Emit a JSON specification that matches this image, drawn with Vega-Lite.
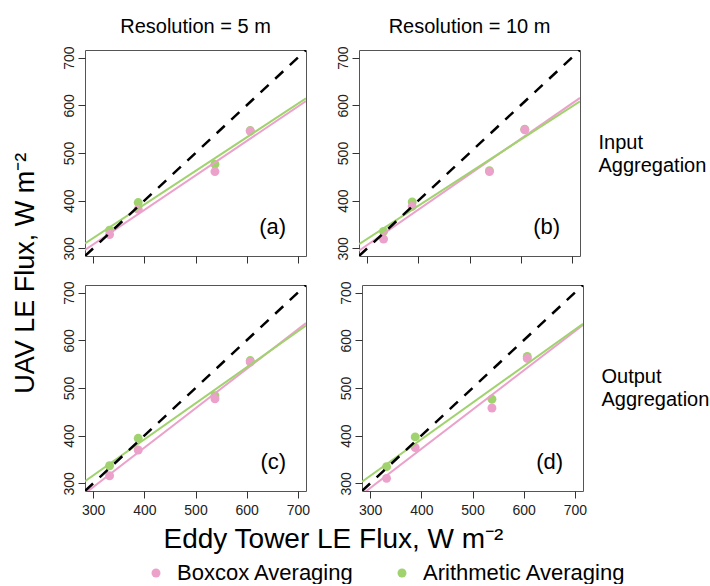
{
  "$schema": "https://vega.github.io/schema/vega-lite/v6.json",
  "background": "white",
  "padding": {"left": 11, "top": 16, "right": 2, "bottom": 0},
  "config": {
    "font": "Liberation Sans",
    "view": {"stroke": "#555555", "strokeWidth": 1},
    "axis": {"domain": false, "grid": false, "tickColor": "#333333", "tickSize": 7, "tickWidth": 1, "labelFontSize": 14, "labelColor": "#222222", "title": null},
    "title": {"fontWeight": "normal", "color": "black"},
    "legend": {"layout": {"bottom": {"anchor": "middle"}}}
  },
  "datasets": {
    "points": [
      {"panel": "a", "method": "Arithmetic Averaging", "x": 332, "y": 338},
      {"panel": "a", "method": "Arithmetic Averaging", "x": 388, "y": 396},
      {"panel": "a", "method": "Arithmetic Averaging", "x": 538, "y": 476.5},
      {"panel": "a", "method": "Arithmetic Averaging", "x": 607, "y": 547},
      {"panel": "b", "method": "Arithmetic Averaging", "x": 332, "y": 335.5},
      {"panel": "b", "method": "Arithmetic Averaging", "x": 388, "y": 397.5},
      {"panel": "b", "method": "Arithmetic Averaging", "x": 539, "y": 463},
      {"panel": "b", "method": "Arithmetic Averaging", "x": 608, "y": 550},
      {"panel": "c", "method": "Arithmetic Averaging", "x": 332, "y": 337},
      {"panel": "c", "method": "Arithmetic Averaging", "x": 388, "y": 394.5},
      {"panel": "c", "method": "Arithmetic Averaging", "x": 538, "y": 484},
      {"panel": "c", "method": "Arithmetic Averaging", "x": 607, "y": 557.5},
      {"panel": "d", "method": "Arithmetic Averaging", "x": 332, "y": 335},
      {"panel": "d", "method": "Arithmetic Averaging", "x": 388, "y": 397.5},
      {"panel": "d", "method": "Arithmetic Averaging", "x": 538, "y": 476.5},
      {"panel": "d", "method": "Arithmetic Averaging", "x": 607, "y": 566},
      {"panel": "a", "method": "Boxcox Averaging", "x": 332, "y": 329},
      {"panel": "a", "method": "Boxcox Averaging", "x": 388, "y": 382},
      {"panel": "a", "method": "Boxcox Averaging", "x": 538, "y": 461},
      {"panel": "a", "method": "Boxcox Averaging", "x": 607, "y": 546},
      {"panel": "b", "method": "Boxcox Averaging", "x": 332, "y": 319.5},
      {"panel": "b", "method": "Boxcox Averaging", "x": 388, "y": 388},
      {"panel": "b", "method": "Boxcox Averaging", "x": 539, "y": 461},
      {"panel": "b", "method": "Boxcox Averaging", "x": 608, "y": 548.5},
      {"panel": "c", "method": "Boxcox Averaging", "x": 332, "y": 316},
      {"panel": "c", "method": "Boxcox Averaging", "x": 388, "y": 370},
      {"panel": "c", "method": "Boxcox Averaging", "x": 538, "y": 477.5},
      {"panel": "c", "method": "Boxcox Averaging", "x": 607, "y": 554.5},
      {"panel": "d", "method": "Boxcox Averaging", "x": 332, "y": 310.5},
      {"panel": "d", "method": "Boxcox Averaging", "x": 388, "y": 375},
      {"panel": "d", "method": "Boxcox Averaging", "x": 538, "y": 458},
      {"panel": "d", "method": "Boxcox Averaging", "x": 607, "y": 562}
    ],
    "fits": [
      {"panel": "a", "method": "Boxcox Averaging", "x": 284, "y": 296.5},
      {"panel": "a", "method": "Boxcox Averaging", "x": 716, "y": 609},
      {"panel": "a", "method": "Arithmetic Averaging", "x": 284, "y": 310.5},
      {"panel": "a", "method": "Arithmetic Averaging", "x": 716, "y": 614.5},
      {"panel": "b", "method": "Boxcox Averaging", "x": 284, "y": 295},
      {"panel": "b", "method": "Boxcox Averaging", "x": 716, "y": 615.5},
      {"panel": "b", "method": "Arithmetic Averaging", "x": 284, "y": 309},
      {"panel": "b", "method": "Arithmetic Averaging", "x": 716, "y": 608.5},
      {"panel": "c", "method": "Boxcox Averaging", "x": 284, "y": 279},
      {"panel": "c", "method": "Boxcox Averaging", "x": 716, "y": 636},
      {"panel": "c", "method": "Arithmetic Averaging", "x": 284, "y": 304.5},
      {"panel": "c", "method": "Arithmetic Averaging", "x": 716, "y": 631},
      {"panel": "d", "method": "Boxcox Averaging", "x": 284, "y": 277},
      {"panel": "d", "method": "Boxcox Averaging", "x": 716, "y": 632},
      {"panel": "d", "method": "Arithmetic Averaging", "x": 284, "y": 303.5},
      {"panel": "d", "method": "Arithmetic Averaging", "x": 716, "y": 634.5}
    ],
    "diag": [{"x": 284, "y": 284}, {"x": 716, "y": 716}],
    "tags": [{"panel": "a", "tag": "(a)"}, {"panel": "b", "tag": "(b)"}, {"panel": "c", "tag": "(c)"}, {"panel": "d", "tag": "(d)"}]
  },
  "title": {"text": "UAV LE Flux, W m⁻²", "orient": "left", "fontSize": 27, "anchor": "middle", "offset": 22, "dx": 27},
  "spacing": 16,
  "resolve": {"scale": {"color": "shared"}, "legend": {"color": "shared"}},
  "vconcat": [
    {
      "hconcat": [
        {
          "width": 221, "height": 206,
          "title": {"text": "Resolution = 5 m", "fontSize": 20, "frame": "group", "anchor": "middle", "baseline": "alphabetic", "offset": -7},
          "layer": [
            {"data": {"name": "points"}, "transform": [{"filter": "datum.panel === 'a'"}], "mark": {"type": "circle", "size": 80, "opacity": 1},
             "encoding": {
               "x": {"field": "x", "type": "quantitative", "scale": {"domain": [284, 716], "nice": false, "zero": false}, "axis": {"values": [300, 400, 500, 600, 700], "labels": false}},
               "y": {"field": "y", "type": "quantitative", "scale": {"domain": [284, 716], "nice": false, "zero": false}, "axis": {"values": [300, 400, 500, 600, 700], "labelAngle": 270, "labelAlign": "center", "labelBaseline": "bottom", "labelPadding": 2}},
               "color": {"field": "method", "type": "nominal", "scale": {"domain": ["Boxcox Averaging", "Arithmetic Averaging"], "range": ["#EBA1CA", "#A0D36E"]},
               "legend": {"title": null, "orient": "bottom", "direction": "horizontal", "labelFontSize": 22, "labelLimit": 0, "symbolSize": 80, "symbolType": "circle", "labelOffset": 10, "columnPadding": 37, "symbolStrokeWidth": 0, "offset": 8, "labelColor": "black"}}}},
            {"data": {"name": "fits"}, "transform": [{"filter": "datum.panel === 'a'"}], "mark": {"type": "line", "strokeWidth": 2, "clip": true},
             "encoding": {"x": {"field": "x", "type": "quantitative"}, "y": {"field": "y", "type": "quantitative"}, "color": {"field": "method", "type": "nominal", "legend": null}}},
            {"data": {"name": "diag"}, "mark": {"type": "line", "color": "black", "strokeDash": [11, 9], "strokeWidth": 2.5, "clip": true},
             "encoding": {"x": {"field": "x", "type": "quantitative"}, "y": {"field": "y", "type": "quantitative"}}},
            {"data": {"name": "tags"}, "transform": [{"filter": "datum.panel === 'a'"}], "mark": {"type": "text", "fontSize": 22, "align": "right", "baseline": "middle", "color": "black"},
             "encoding": {"x": {"datum": 677, "type": "quantitative"}, "y": {"datum": 344, "type": "quantitative"}, "text": {"field": "tag", "type": "nominal"}}}
          ]
        },
        {
          "width": 221, "height": 206,
          "title": {"text": "Resolution = 10 m", "fontSize": 20, "frame": "group", "anchor": "middle", "baseline": "alphabetic", "offset": -7},
          "resolve": {"scale": {"y": "independent"}, "axis": {"y": "independent"}},
          "layer": [
            {"data": {"name": "points"}, "transform": [{"filter": "datum.panel === 'b'"}], "mark": {"type": "circle", "size": 80, "opacity": 1},
             "encoding": {
               "x": {"field": "x", "type": "quantitative", "scale": {"domain": [284, 716], "nice": false, "zero": false}, "axis": {"values": [300, 400, 500, 600, 700], "labels": false}},
               "y": {"field": "y", "type": "quantitative", "scale": {"domain": [284, 716], "nice": false, "zero": false}, "axis": {"values": [300, 400, 500, 600, 700], "labelAngle": 270, "labelAlign": "center", "labelBaseline": "bottom", "labelPadding": 2}},
               "color": {"field": "method", "type": "nominal"}}},
            {"data": {"name": "fits"}, "transform": [{"filter": "datum.panel === 'b'"}], "mark": {"type": "line", "strokeWidth": 2, "clip": true},
             "encoding": {"x": {"field": "x", "type": "quantitative"}, "y": {"field": "y", "type": "quantitative", "scale": {"domain": [284, 716], "nice": false, "zero": false}, "axis": null}, "color": {"field": "method", "type": "nominal", "legend": null}}},
            {"data": {"name": "diag"}, "mark": {"type": "line", "color": "black", "strokeDash": [11, 9], "strokeWidth": 2.5, "clip": true},
             "encoding": {"x": {"field": "x", "type": "quantitative"}, "y": {"field": "y", "type": "quantitative", "scale": {"domain": [284, 716], "nice": false, "zero": false}, "axis": null}}},
            {"data": {"name": "tags"}, "transform": [{"filter": "datum.panel === 'b'"}], "mark": {"type": "text", "fontSize": 22, "align": "right", "baseline": "middle", "color": "black"},
             "encoding": {"x": {"datum": 677, "type": "quantitative"},
               "y": {"datum": 344, "type": "quantitative", "scale": {"domain": [284, 716], "nice": false, "zero": false},
                 "axis": {"orient": "right", "title": ["Input", "Aggregation"], "labels": false, "ticks": false, "domain": false, "titleAngle": 0, "titleAlign": "left", "titleBaseline": "middle", "titleFontSize": 20, "titleFontWeight": "normal", "titleColor": "black", "titlePadding": -5, "titleLineHeight": 23, "titleY": 92}},
               "text": {"field": "tag", "type": "nominal"}}}
          ]
        }
      ],
      "spacing": 28
    },
    {
      "hconcat": [
        {
          "width": 221, "height": 206,
          "layer": [
            {"data": {"name": "points"}, "transform": [{"filter": "datum.panel === 'c'"}], "mark": {"type": "circle", "size": 80, "opacity": 1},
             "encoding": {
               "x": {"field": "x", "type": "quantitative", "scale": {"domain": [284, 716], "nice": false, "zero": false}, "axis": {"values": [300, 400, 500, 600, 700], "labelPadding": 5}},
               "y": {"field": "y", "type": "quantitative", "scale": {"domain": [284, 716], "nice": false, "zero": false}, "axis": {"values": [300, 400, 500, 600, 700], "labelAngle": 270, "labelAlign": "center", "labelBaseline": "bottom", "labelPadding": 2}},
               "color": {"field": "method", "type": "nominal"}}},
            {"data": {"name": "fits"}, "transform": [{"filter": "datum.panel === 'c'"}], "mark": {"type": "line", "strokeWidth": 2, "clip": true},
             "encoding": {"x": {"field": "x", "type": "quantitative"}, "y": {"field": "y", "type": "quantitative"}, "color": {"field": "method", "type": "nominal", "legend": null}}},
            {"data": {"name": "diag"}, "mark": {"type": "line", "color": "black", "strokeDash": [11, 9], "strokeWidth": 2.5, "clip": true},
             "encoding": {"x": {"field": "x", "type": "quantitative"}, "y": {"field": "y", "type": "quantitative"}}},
            {"data": {"name": "tags"}, "transform": [{"filter": "datum.panel === 'c'"}], "mark": {"type": "text", "fontSize": 22, "align": "right", "baseline": "middle", "color": "black"},
             "encoding": {"x": {"datum": 677, "type": "quantitative"}, "y": {"datum": 344, "type": "quantitative"}, "text": {"field": "tag", "type": "nominal"}}}
          ]
        },
        {
          "width": 221, "height": 206,
          "resolve": {"scale": {"y": "independent"}, "axis": {"y": "independent"}},
          "layer": [
            {"data": {"name": "points"}, "transform": [{"filter": "datum.panel === 'd'"}], "mark": {"type": "circle", "size": 80, "opacity": 1},
             "encoding": {
               "x": {"field": "x", "type": "quantitative", "scale": {"domain": [284, 716], "nice": false, "zero": false}, "axis": {"values": [300, 400, 500, 600, 700], "labelPadding": 5}},
               "y": {"field": "y", "type": "quantitative", "scale": {"domain": [284, 716], "nice": false, "zero": false}, "axis": {"values": [300, 400, 500, 600, 700], "labelAngle": 270, "labelAlign": "center", "labelBaseline": "bottom", "labelPadding": 2}},
               "color": {"field": "method", "type": "nominal"}}},
            {"data": {"name": "fits"}, "transform": [{"filter": "datum.panel === 'd'"}], "mark": {"type": "line", "strokeWidth": 2, "clip": true},
             "encoding": {"x": {"field": "x", "type": "quantitative"}, "y": {"field": "y", "type": "quantitative", "scale": {"domain": [284, 716], "nice": false, "zero": false}, "axis": null}, "color": {"field": "method", "type": "nominal", "legend": null}}},
            {"data": {"name": "diag"}, "mark": {"type": "line", "color": "black", "strokeDash": [11, 9], "strokeWidth": 2.5, "clip": true},
             "encoding": {"x": {"field": "x", "type": "quantitative"}, "y": {"field": "y", "type": "quantitative", "scale": {"domain": [284, 716], "nice": false, "zero": false}, "axis": null}}},
            {"data": {"name": "tags"}, "transform": [{"filter": "datum.panel === 'd'"}], "mark": {"type": "text", "fontSize": 22, "align": "right", "baseline": "middle", "color": "black"},
             "encoding": {"x": {"datum": 677, "type": "quantitative"},
               "y": {"datum": 344, "type": "quantitative", "scale": {"domain": [284, 716], "nice": false, "zero": false},
                 "axis": {"orient": "right", "title": ["Output", "Aggregation"], "labels": false, "ticks": false, "domain": false, "titleAngle": 0, "titleAlign": "left", "titleBaseline": "middle", "titleFontSize": 20, "titleFontWeight": "normal", "titleColor": "black", "titlePadding": -5, "titleLineHeight": 23, "titleY": 91}},
               "text": {"field": "tag", "type": "nominal"}}}
          ]
        }
      ],
      "spacing": 28,
      "title": {"text": "Eddy Tower LE Flux, W m⁻²", "orient": "bottom", "fontSize": 28, "anchor": "middle", "offset": 8, "dx": -52}
    }
  ]
}
